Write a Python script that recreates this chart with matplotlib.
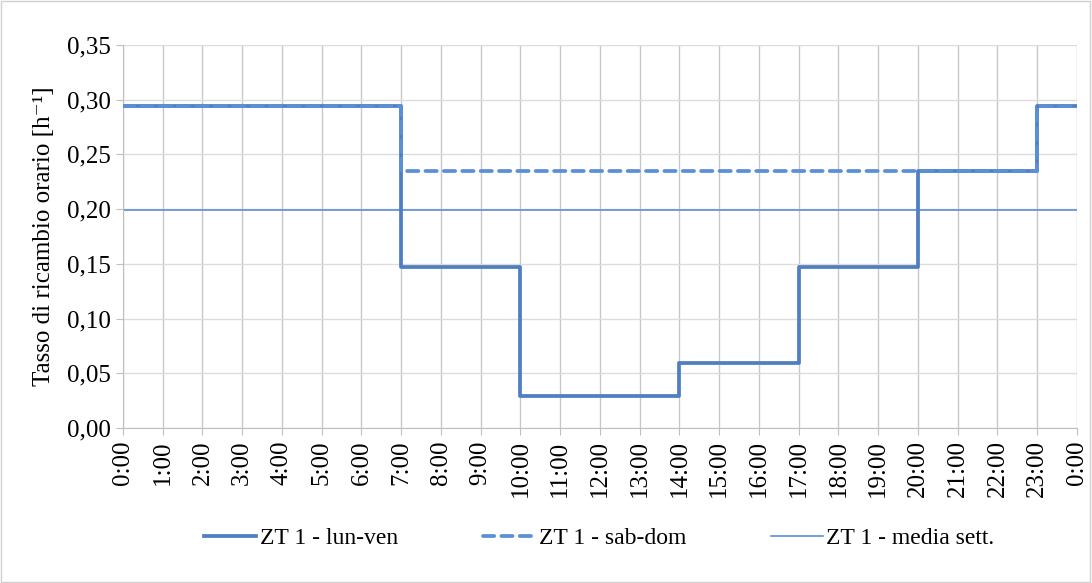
import numpy as np
import matplotlib.pyplot as plt
from matplotlib.patches import Rectangle

# dati
ore = list(range(25))
etichette_ore = [f'{h % 24}:00' for h in ore]
lun_ven = [0.294] * 7 + [0.147] * 3 + [0.029] * 4 + [0.059] * 3 + [0.147] * 3 + [0.235] * 3 + [0.294] + [0.294]
sab_dom = [0.294] * 7 + [0.235] * 16 + [0.294] + [0.294]
media_sett = [0.199] * 25

plt.rcParams['font.family'] = ['Liberation Serif', 'DejaVu Serif']

fig = plt.figure(figsize=(10.92, 5.83), dpi=100)
ax = fig.add_axes([0.1126, 0.266, 0.8736, 0.6568])

c_main = '#4f7fc0'
c_light = '#5b8fd6'

ax.step(ore, lun_ven, where='post', color=c_main, lw=2.7, label='ZT 1 - lun-ven', zorder=3)
ax.step(ore, sab_dom, where='post', color=c_light, lw=2.7, ls=(0, (3.0, 1.9)),
        dash_capstyle='round', label='ZT 1 - sab-dom', zorder=4)
ax.plot(ore, media_sett, color=c_light, lw=1.2, label='ZT 1 - media sett.', zorder=2)

ax.set_xlim(0, 24)
ax.set_ylim(0, 0.35)
ax.set_xticks(ore)
ax.set_xticklabels(etichette_ore, rotation=90, fontsize=18)
yt = np.arange(0, 0.351, 0.05)
ax.set_yticks(yt)
ax.set_yticklabels([f'{v:.2f}'.replace('.', ',') for v in yt], fontsize=18)
ax.set_ylabel('Tasso di ricambio orario [h\u207b\u00b9]', fontsize=18, labelpad=8)

ax.grid(axis='x', color='#c8c8c8', lw=1)
ax.grid(axis='y', color='#dcdcdc', lw=1)
ax.set_axisbelow(True)
for s in ['top', 'right']:
    ax.spines[s].set_visible(False)
for s in ['left', 'bottom']:
    ax.spines[s].set_color('#bfbfbf')
ax.tick_params(axis='both', color='#bfbfbf', length=5, pad=4)

fig.legend(loc='center', bbox_to_anchor=(0.549, 0.077), ncol=3, frameon=False,
           fontsize=17, handlelength=2.2, columnspacing=3.6, handletextpad=0.15)

fig.patches.append(Rectangle((0.0005, 0.0009), 0.998, 0.998, transform=fig.transFigure,
                             fill=False, edgecolor='#d0d0d0', lw=1))

plt.savefig('out.png', dpi=100)
